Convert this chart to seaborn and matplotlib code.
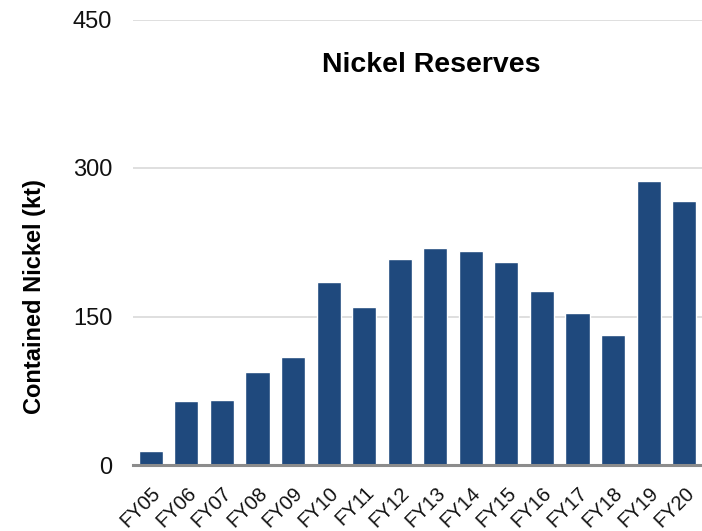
import matplotlib
matplotlib.use("Agg")
import matplotlib.pyplot as plt
import seaborn as sns
import pandas as pd

years = ["FY05", "FY06", "FY07", "FY08", "FY09", "FY10", "FY11", "FY12",
         "FY13", "FY14", "FY15", "FY16", "FY17", "FY18", "FY19", "FY20"]
nickel_kt = [14.5, 64.7, 66, 94, 109.5, 184.4, 160.1, 208, 219.5, 215.8,
             205.3, 176, 154, 131.5, 287.2, 266.7]
y_ticks = [0, 150, 300, 450]

sns.set_theme(style="white")
plt.rcParams["font.family"] = ["Liberation Sans", "DejaVu Sans"]

df = pd.DataFrame({"year": years, "kt": nickel_kt})

fig = plt.figure(figsize=(7.02, 5.31), dpi=100)
ax = fig.add_axes([133 / 702, 66 / 531, 1 - 133 / 702, (465 - 19.5) / 531])

sns.barplot(data=df, x="year", y="kt", color="#1f497d", saturation=1,
            width=0.68, ax=ax, zorder=3)

ax.set_xlim(-0.5, len(years) - 0.5)
ax.set_ylim(0, 450)
ax.set_yticks(y_ticks)
ax.set_yticklabels([str(t) for t in y_ticks], fontsize=17, color="#111111")
ax.yaxis.grid(True, color="#d9d9d9", linewidth=1.2, zorder=0)
ax.xaxis.grid(False)
for s in ["top", "right", "left"]:
    ax.spines[s].set_visible(False)
ax.spines["bottom"].set_color("#8c8c8c")
ax.spines["bottom"].set_linewidth(2.2)
ax.spines["bottom"].set_zorder(4)
ax.tick_params(axis="y", length=0, pad=15)
ax.tick_params(axis="x", length=0, pad=13)
ax.set_xticks(range(len(years)))
ax.set_xticklabels(years, rotation=45, ha="right", rotation_mode="anchor",
                   fontsize=14.5, color="#111111")
ax.set_xlabel("")
ax.set_ylabel("")

fig.text(35 / 702, 1 - 297 / 531, "Contained Nickel (kt)", rotation=90,
         ha="center", va="center", fontsize=17, fontweight="bold", color="#000000")
fig.text(431 / 702, 1 - 65 / 531, "Nickel Reserves", ha="center", va="center",
         fontsize=20.5, fontweight="bold", color="#000000")

fig.savefig("out.png", dpi=100)
